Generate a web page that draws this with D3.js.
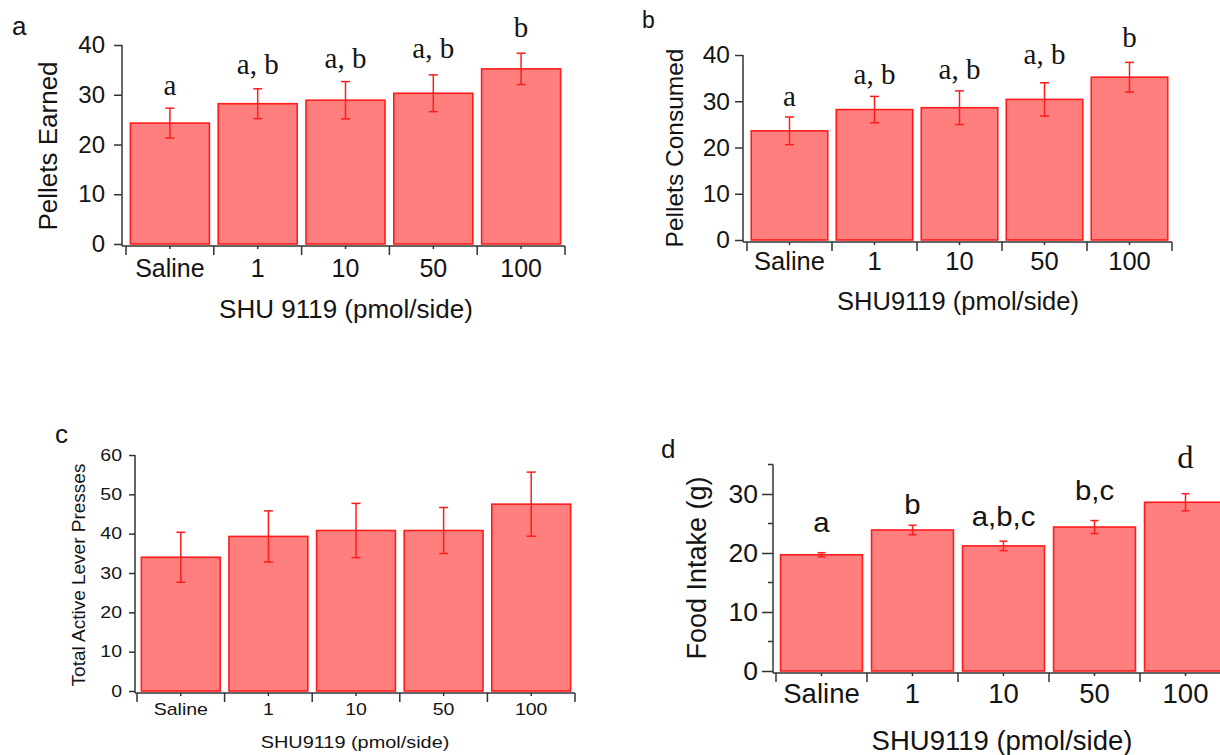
<!DOCTYPE html>
<html lang="en">
<head>
<meta charset="UTF-8">
<title>SHU9119 bar panels</title>
<script src="https://d3js.org/d3.v7.min.js"></script>
<style>
  body { margin: 0; background: #fff; }
  svg text { fill: #141414; }
</style>
</head>
<body>
<svg id="fig" width="1220" height="755"></svg>
<script>
// categories shared by all four panels
const doses = ["Saline", "1", "10", "50", "100"];

// a - pellets earned
const earnedMean = [24.3, 28.2, 28.9, 30.3, 35.2];
const earnedSem  = [3.0, 3.0, 3.75, 3.7, 3.15];
const earnedSig  = ["a", "a, b", "a, b", "a, b", "b"];
const earnedSigY = [29.9, 34.2, 35.4, 37.4, 41.6];

// b - pellets consumed
const consumedMean = [23.6, 28.2, 28.6, 30.4, 35.2];
const consumedSem  = [3.0, 2.85, 3.65, 3.6, 3.2];
const consumedSig  = ["a", "a, b", "a, b", "a, b", "b"];
const consumedSigY = [29.0, 33.7, 34.8, 38.1, 41.7];

// c - total active lever presses
const pressesMean = [34.0, 39.3, 40.8, 40.8, 47.5];
const pressesSem  = [6.35, 6.5, 6.9, 5.85, 8.15];

// d - food intake (g)
const intakeMean = [19.7, 23.9, 21.2, 24.4, 28.6];
const intakeSem  = [0.35, 0.8, 0.8, 1.1, 1.45];
const intakeSig  = ["a", "b", "a,b,c", "b,c", "d"];
const intakeSigY = [23.6, 26.6, 24.6, 29.0, 34.4];

const SANS = '"Liberation Sans", Arial, sans-serif';
const SERIF = '"Liberation Serif", "Times New Roman", serif';
const svg = d3.select("#fig");

const serifSig = [SERIF, 29, 1];
const sansSig = [SANS, 28.5, 1.03];

const panels = [
  { tag: "a", mean: earnedMean, sem: earnedSem, sig: earnedSig, sigY: earnedSigY,
    yMax: 40, yTicks: [0, 10, 20, 30, 40], yMinor: [],
    yLabel: "Pellets Earned", xLabel: "SHU 9119 (pmol/side)",
    axisX: 122, x0: 126, x1: 565, y0: 244, yTop: 45,
    tick: 8, pad: 9, tickFont: 24, sx: 1, xLabOff: 31,
    yLab: [48, 146, 26], xLab: [346, 318, 26, 1], tagPos: [12, 35, 26],
    sigStyle: [serifSig, serifSig, serifSig, serifSig, serifSig], cap: 9 },
  { tag: "b", mean: consumedMean, sem: consumedSem, sig: consumedSig, sigY: consumedSigY,
    yMax: 40, yTicks: [0, 10, 20, 30, 40], yMinor: [],
    yLabel: "Pellets Consumed", xLabel: "SHU9119 (pmol/side)",
    axisX: 743, x0: 747, x1: 1172, y0: 240, yTop: 55,
    tick: 8, pad: 5, tickFont: 24.5, sx: 1, xLabOff: 28,
    yLab: [674, 148, 24.5], xLab: [958, 310, 25.5, 1], tagPos: [642, 28, 23],
    sigStyle: [serifSig, serifSig, serifSig, serifSig, serifSig], cap: 9 },
  { tag: "c", mean: pressesMean, sem: pressesSem, sig: null, sigY: null,
    yMax: 60, yTicks: [0, 10, 20, 30, 40, 50, 60], yMinor: [],
    yLabel: "Total Active Lever Presses", xLabel: "SHU9119 (pmol/side)",
    axisX: 135, x0: 137, x1: 575, y0: 691, yTop: 455,
    tick: 6, pad: 7, tickFont: 16, sx: 1.22, xLabOff: 22,
    yLab: [78, 575, 19], xLab: [355, 748, 17, 1.17], tagPos: [55, 443, 26],
    sigStyle: [], cap: 9 },
  { tag: "d", mean: intakeMean, sem: intakeSem, sig: intakeSig, sigY: intakeSigY,
    yMax: 35, yTicks: [0, 10, 20, 30], yMinor: [5, 15, 25, 35],
    yLabel: "Food Intake (g)", xLabel: "SHU9119 (pmol/side)",
    axisX: 773, x0: 776, x1: 1231, y0: 671, yTop: 464.5,
    tick: 11, pad: 4, tickFont: 26.5, sx: 1, xLabOff: 30,
    yLab: [697, 568, 27], xLab: [1002, 750, 27.5, 1], tagPos: [661, 458, 26],
    sigStyle: [sansSig, sansSig, sansSig, sansSig, [SERIF, 31, 1.05]], cap: 8 }
];

function stretchedText(g, x, y, txt, size, sx, family) {
  return g.append("text")
    .attr("transform", `translate(${x},${y}) scale(${sx},1)`)
    .attr("text-anchor", "middle")
    .style("font-family", family)
    .style("font-size", size + "px")
    .text(txt);
}

function drawPanel(p) {
  const g = svg.append("g");
  const y = d3.scaleLinear().domain([0, p.yMax]).range([p.y0, p.yTop]);
  const x = d3.scaleBand().domain(doses).range([p.x0, p.x1])
    .paddingInner(0.1).paddingOuter(0.05);
  const rows = doses.map((d, i) => ({ dose: d, m: p.mean[i], s: p.sem[i], i }));
  const cx = d => x(d) + x.bandwidth() / 2;

  // bars
  g.selectAll("rect.bar").data(rows).join("rect")
    .attr("class", "bar")
    .attr("x", d => x(d.dose))
    .attr("y", d => y(d.m))
    .attr("width", x.bandwidth())
    .attr("height", d => y(0) - y(d.m))
    .attr("fill", "#ff7f7f")
    .attr("stroke", "#ff1c1c")
    .attr("stroke-width", 1.6);

  // error bars
  const eb = g.selectAll("g.err").data(rows).join("g")
    .attr("class", "err")
    .attr("transform", d => `translate(${cx(d.dose)},0)`)
    .attr("stroke", "#ff1c1c").attr("stroke-width", 1.5);
  eb.append("line").attr("y1", d => y(d.m + d.s)).attr("y2", d => y(d.m - d.s));
  eb.append("line").attr("x1", -p.cap / 2).attr("x2", p.cap / 2)
    .attr("y1", d => y(d.m + d.s)).attr("y2", d => y(d.m + d.s));
  eb.append("line").attr("x1", -p.cap / 2).attr("x2", p.cap / 2)
    .attr("y1", d => y(d.m - d.s)).attr("y2", d => y(d.m - d.s));

  // y axis
  const yg = g.append("g").attr("transform", `translate(${p.axisX},0)`)
    .call(d3.axisLeft(y).tickValues(p.yTicks).tickSize(p.tick)
      .tickPadding(p.pad).tickSizeOuter(0));
  if (p.yMinor.length) {
    yg.selectAll(".minor").data(p.yMinor).join("line")
      .attr("class", "minor").attr("x1", -5).attr("x2", 0)
      .attr("y1", d => y(d)).attr("y2", d => y(d));
  }
  yg.select(".domain").attr("d", `M0,${y(0) + 2}V${y(p.yMax)}`);
  yg.selectAll("line, path").attr("stroke", "#333").attr("stroke-width", 1.5);
  yg.selectAll("text")
    .style("font-family", SANS).style("font-size", p.tickFont + "px").attr("fill", "#141414")
    .attr("x", -(p.tick + p.pad) / p.sx)
    .attr("transform", `scale(${p.sx},1)`);

  // x axis: boundary ticks between groups, short ticks at group centres
  const ax = p.y0 + 2;
  const xg = g.append("g").attr("stroke", "#333").attr("stroke-width", 1.5);
  xg.append("line").attr("x1", p.axisX).attr("x2", p.x1).attr("y1", ax).attr("y2", ax);
  const bounds = d3.range(doses.length + 1).map(k => p.x0 + k * x.step());
  xg.selectAll("line.bt").data(bounds).join("line").attr("class", "bt")
    .attr("x1", d => d).attr("x2", d => d).attr("y1", ax).attr("y2", ax + 9);
  xg.selectAll("line.ct").data(doses).join("line").attr("class", "ct")
    .attr("x1", cx).attr("x2", cx)
    .attr("y1", ax).attr("y2", ax + 3);
  doses.forEach(d => stretchedText(g, cx(d), ax + p.xLabOff, d,
    p.tickFont + (p.tag === "c" ? 0 : 1), p.sx, SANS));

  // titles
  g.append("text")
    .attr("transform", `translate(${p.yLab[0]},${p.yLab[1]}) rotate(-90)`)
    .attr("text-anchor", "middle").attr("dominant-baseline", "central")
    .style("font-family", SANS).style("font-size", p.yLab[2] + "px")
    .text(p.yLabel);
  stretchedText(g, p.xLab[0], p.xLab[1], p.xLabel, p.xLab[2], p.xLab[3], SANS);
  g.append("text").attr("x", p.tagPos[0]).attr("y", p.tagPos[1])
    .style("font-family", SANS).style("font-size", p.tagPos[2] + "px")
    .text(p.tag);

  // significance letters
  if (p.sig) {
    rows.forEach(d => {
      const [fam, size, sx] = p.sigStyle[d.i];
      stretchedText(g, cx(d.dose), y(p.sigY[d.i]), p.sig[d.i], size, sx, fam);
    });
  }
}

panels.forEach(drawPanel);
</script>
</body>
</html>
